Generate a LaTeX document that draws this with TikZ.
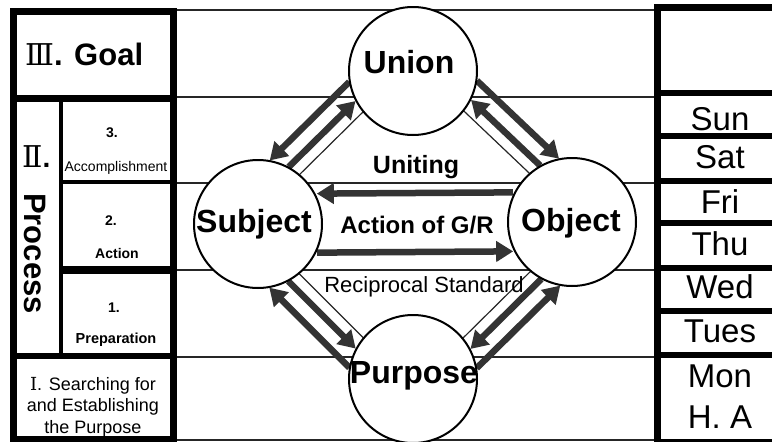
\documentclass[tikz,border=0pt]{standalone}
\usepackage{fontspec}
\setmainfont{Liberation Sans}
\newfontfamily\romfont{DejaVu Serif}
\usetikzlibrary{calc,arrows.meta}
\pgfdeclarelayer{bg}
\pgfsetlayers{bg,main}
\newcommand\lnk[5]{%
  \path ($(#1)!#3pt!90:(#2)$) coordinate (la) ($(#2)!#3pt!-90:(#1)$) coordinate (lb);
  \draw[#5] ($(la)!#4pt!(lb)$) -- ($(lb)!#4pt!(la)$);}
\begin{document}
\begin{tikzpicture}[x=1pt,y=1pt,
  rule/.style={line width=1.1pt, black!85},
  ring/.style={circle, draw, line width=2pt, fill=white, minimum size=128pt, inner sep=0pt},
  big/.style={inner sep=0pt, anchor=base, font=\bfseries\fontsize{32}{32}\selectfont},
  fat/.style={line width=6.5pt, black!80, -{Triangle[length=17pt,width=20pt]}},
  slim/.style={line width=1.2pt, black!85},
  heavy/.style={line width=6.5pt},
  mid/.style={line width=4pt},
  lbl/.style={inner sep=0pt, anchor=base},
  day/.style={inner sep=0pt, anchor=base, font=\fontsize{33}{33}\selectfont},
]
\useasboundingbox (0,0) rectangle (772,-442);

% circles
\node[ring] (U) at (413,-71) {};
\node[ring] (S) at (258,-224) {};
\node[ring] (O) at (572,-222) {};
\node[ring] (P) at (413,-379) {};
\node[big] (Ut) at (409,-73) {Union};
\node[big] (St) at (254,-232) {Subject};
\node[big] (Ot) at (571,-231) {Object};
\node[big] (Pt) at (414,-383) {Purpose};

\begin{pgfonlayer}{bg}
\fill[white] (0,0) rectangle (772,-442);
% horizontal rules
\foreach \y/\n in {10/r0,97/r1,183/r2,270/r3,357/r4,440/r5} {
  \coordinate (\n a) at (176,-\y); \coordinate (\n b) at (657,-\y);
  \draw[rule] (\n a) -- (\n b);
}
% Subject - Union
\lnk{U}{S}{-37}{53}{fat}
\lnk{S}{U}{19}{62}{fat}
\lnk{S}{U}{6}{64}{slim}
% Union - Object
\lnk{U}{O}{37}{53}{fat}
\lnk{O}{U}{-19}{62}{fat}
\lnk{U}{O}{6}{64}{slim}
% Object - Purpose
\lnk{P}{O}{-37}{53}{fat}
\lnk{O}{P}{19}{62}{fat}
\lnk{O}{P}{6}{64}{slim}
% Purpose - Subject
\lnk{P}{S}{37}{53}{fat}
\lnk{S}{P}{-19}{62}{fat}
\lnk{P}{S}{6}{64}{slim}
% Subject - Object
\lnk{O}{S}{-30}{59}{fat}
\lnk{S}{O}{-29}{59}{fat}
\end{pgfonlayer}

\node[lbl, font=\bfseries\fontsize{25}{25}\selectfont] (uni) at (416,-173) {Uniting};
\node[lbl, font=\bfseries\fontsize{24}{24}\selectfont] (act) at (417,-233) {Action of G/R};
\node[lbl, font=\fontsize{22}{22}\selectfont] (rec) at (424,-292) {Reciprocal Standard};

% left panel
\draw[heavy] (13.5,-11.5) rectangle (173.5,-439.5);
\draw[heavy] (13.5,-98.5) -- (173.5,-98.5);
\draw[mid] (61,-98.5) -- (61,-356);
\draw[mid] (61,-182) -- (173.5,-182);
\draw[line width=8pt] (61,-270) -- (173.5,-270);
\draw[heavy] (13.5,-356) -- (173.5,-356);

\node[inner sep=0pt, anchor=base west] (goal) at (25,-65)
  {{\romfont\fontsize{30}{30}\selectfont Ⅲ}{\bfseries\fontsize{31}{31}\selectfont. Goal}};
\node[inner sep=0pt, anchor=base west] (two) at (22,-167)
  {{\romfont\fontsize{30}{30}\selectfont Ⅱ}{\bfseries\fontsize{28}{28}\selectfont .}};
\node[inner sep=0pt, anchor=base west, rotate=-90, font=\bfseries\fontsize{31}{31}\selectfont] (proc) at (24,-193) {Process};
\node[lbl, font=\bfseries\fontsize{14}{14}\selectfont] (n3) at (112,-137) {3.};
\node[lbl, font=\fontsize{14}{14}\selectfont] (acc) at (116,-171) {Accomplishment};
\node[lbl, font=\bfseries\fontsize{14}{14}\selectfont] (n2) at (111,-225) {2.};
\node[lbl, font=\bfseries\fontsize{14}{14}\selectfont] (actn) at (117,-258) {Action};
\node[lbl, font=\bfseries\fontsize{14}{14}\selectfont] (n1) at (114,-312) {1.};
\node[lbl, font=\bfseries\fontsize{14.5}{14.5}\selectfont] (prep) at (116,-343) {Preparation};
\node[inner sep=0pt, align=center, font=\fontsize{18}{21.5}\selectfont] (srch) at (93,-407)
  {{\romfont Ⅰ}. Searching for\\and Establishing\\the Purpose};

% right panel
\draw[line width=7pt] (657.5,-445) -- (657.5,-7.5) -- (775,-7.5);
\foreach \y in {92.5,136,180.5,222.5,267.5,310.5,355}
  \draw[line width=6pt] (657,-\y) -- (775,-\y);
\draw[line width=4pt] (657,-440.5) -- (775,-440.5);

\node[day] (sun) at (720,-130) {Sun};
\node[day] (sat) at (720,-168) {Sat};
\node[day] (fri) at (720,-213) {Fri};
\node[day] (thu) at (720,-255) {Thu};
\node[day] (wed) at (720,-298) {Wed};
\node[day] (tue) at (720,-342) {Tues};
\node[day] (mon) at (720,-387) {Mon};
\node[day] (ha) at (720,-428) {H. A};
\end{tikzpicture}
\end{document}
